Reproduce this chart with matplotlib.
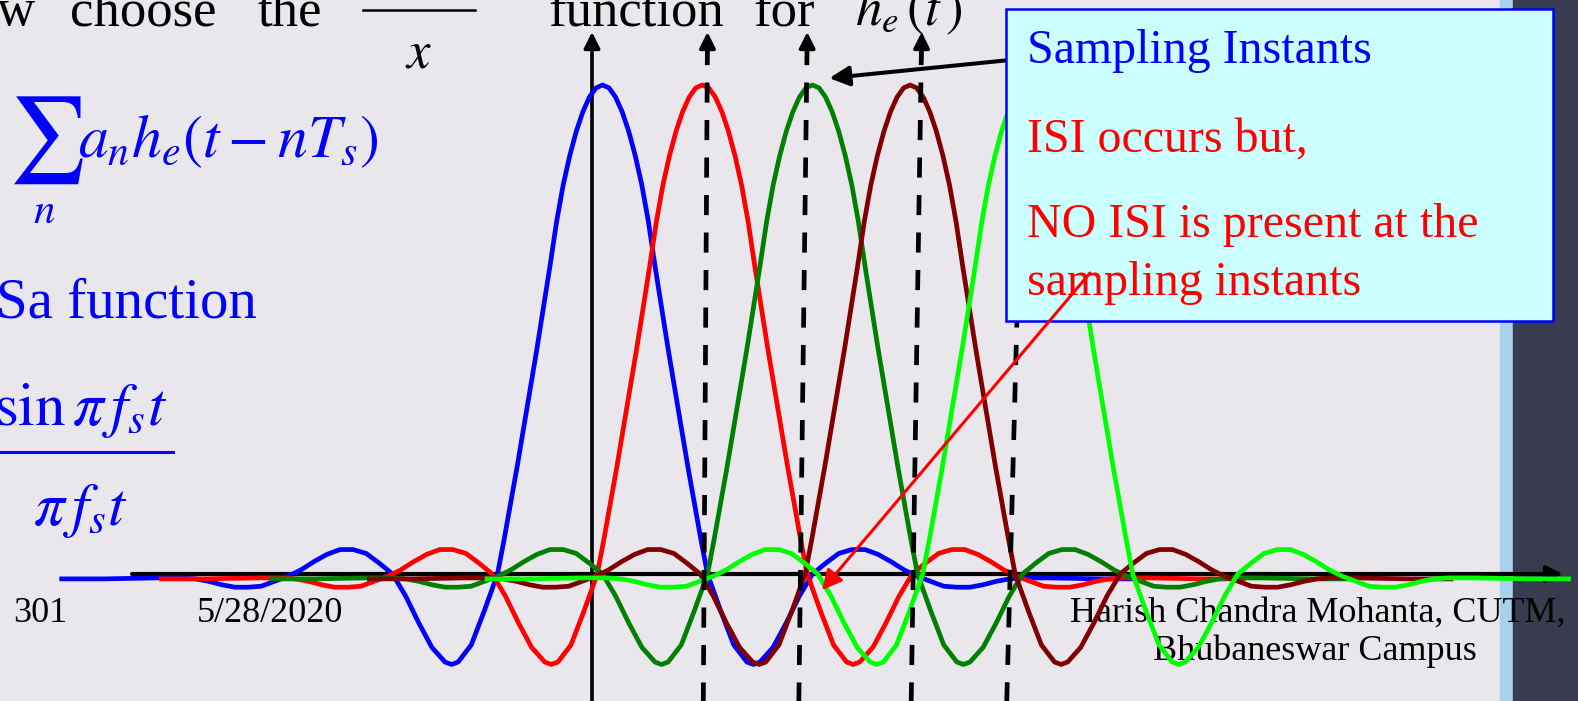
import numpy as np
import matplotlib
matplotlib.use('Agg')
import matplotlib.pyplot as plt
from matplotlib.patches import Rectangle
from matplotlib.lines import Line2D

# ---- data ----
# one side of the pulse (blue curve), offset from centre in Ts -> amplitude
half_offsets = [0.0000, 0.0625, 0.1250, 0.1875, 0.2500, 0.3125, 0.3750, 0.4375,
                0.5000, 0.5625, 0.6250, 0.6875, 0.7500, 0.8125, 0.8750, 0.9375,
                1.000, 1.125, 1.250, 1.375, 1.4375, 1.500, 1.625, 1.750, 1.875,
                2.000, 2.125, 2.250, 2.375, 2.500, 2.625, 2.750, 2.875,
                3.000, 3.125, 3.250, 3.375, 3.500, 3.625, 3.750, 3.875,
                4.000, 4.250, 4.500, 4.750, 5.000, 5.150]
half_pulse = [1.000, 0.994, 0.975, 0.945, 0.905, 0.855, 0.795, 0.720,
              0.630, 0.545, 0.460, 0.380, 0.300, 0.220, 0.145, 0.070,
              0.000, -0.075, -0.145, -0.180, -0.185, -0.180, -0.150, -0.100, -0.045,
              0.000, 0.022, 0.042, 0.050, 0.050, 0.040, 0.025, 0.008,
              -0.005, -0.015, -0.025, -0.027, -0.027, -0.022, -0.015, -0.010,
              -0.008, -0.008, -0.009, -0.010, -0.010, -0.010]

pulse_centres = [0.10, 1.05, 2.10, 3.03, 4.15]
pulse_colours = ['#0000FF', '#FF0000', '#008000', '#800000', '#00FF00']

# sampling instants (dashed lines lean a little): bottom / top position in Ts
sample_bottom = [1.06, 1.97, 3.04, 3.95]
sample_top = [1.10, 2.05, 3.14, 4.12]

# ---- layout in pixels ----
W, H = 1578, 701
X0, Y0 = 592, 574       # origin of the t / amplitude axes
T_PX, A_PX = 105, 489   # pixels per Ts, pixels per unit amplitude
BG = '#E9E7EB'

plt.rcParams['font.family'] = ['Liberation Serif', 'DejaVu Serif']
plt.rcParams['mathtext.fontset'] = 'stix'
plt.rcParams['lines.scale_dashes'] = False

fig = plt.figure(figsize=(W / 100, H / 100), dpi=100, facecolor=BG)
ax = fig.add_axes([0, 0, 1, 1])
ax.set_facecolor(BG)
ax.axis('off')
ax.set_xlim(-X0 / T_PX, (W - X0) / T_PX)
ax.set_ylim(-(H - Y0) / A_PX, Y0 / A_PX)
y_top, y_bot = ax.get_ylim()[1], ax.get_ylim()[0]


def fx(x):
    return x / W


def fy(y):
    return 1 - y / H


def tx(x, y, s, **kw):
    kw.setdefault('va', 'baseline')
    kw.setdefault('zorder', 10)
    ax.text(fx(x), fy(y), s, transform=ax.transAxes, **kw)


# side strips of the slide template
ax.add_patch(Rectangle((fx(1500), 0), 13 / W, 1, transform=ax.transAxes,
                       color='#A6D3EB', zorder=0))
ax.add_patch(Rectangle((fx(1513), 0), 1 - fx(1513), 1, transform=ax.transAxes,
                       color='#383C4E', zorder=0))

# axes with arrows
arrow_tip = (Y0 - 32) / A_PX
ax.annotate('', xy=((1563 - X0) / T_PX, 0), xytext=((132 - X0) / T_PX, 0),
            arrowprops=dict(arrowstyle='-|>', lw=3.0, color='black',
                            mutation_scale=24, shrinkA=0, shrinkB=0),
            zorder=2)
ax.annotate('', xy=(0, arrow_tip), xytext=(0, y_bot),
            arrowprops=dict(arrowstyle='-|>', lw=2.6, color='black',
                            mutation_scale=24, shrinkA=0, shrinkB=0),
            zorder=2)

# the shifted pulses
off = np.array(half_offsets)
val = np.array(half_pulse)
full_off = np.concatenate([-off[::-1], off[1:]])
full_val = np.concatenate([val[::-1], val[1:]])
for c, col in zip(pulse_centres, pulse_colours):
    ax.plot(full_off + c, full_val, color=col, lw=3.4, zorder=3,
            solid_joinstyle='round')

# dashed sampling instants with arrow heads
head_base = (Y0 - 45) / A_PX
for xb, xt in zip(sample_bottom, sample_top):
    x_hb = xt + (xb - xt) * (arrow_tip - head_base) / (arrow_tip - y_bot)
    ax.plot([x_hb, xb], [head_base, y_bot], color='black', lw=3.4,
            dashes=(14.5, 12.5), zorder=4)
    ax.annotate('', xy=(xt, arrow_tip), xytext=(x_hb, head_base - 0.03),
                arrowprops=dict(arrowstyle='-|>', lw=2.6, color='black',
                                mutation_scale=24, shrinkA=0, shrinkB=0),
                zorder=4)

# call-out box
ax.add_patch(Rectangle((fx(1006), fy(321)), 547 / W, 312 / H,
                       transform=ax.transAxes, fc='#CCFFFF', ec='#0000FF',
                       lw=1.8, zorder=5))
ax.annotate('', xy=(pulse_centres[2] + 0.16, 1.014),
            xytext=((1020 - X0) / T_PX, (Y0 - 59) / A_PX),
            arrowprops=dict(arrowstyle='-|>', lw=2.9, color='black',
                            mutation_scale=30, shrinkA=0, shrinkB=0),
            zorder=4.5)
ax.annotate('', xy=(sample_bottom[1] + 0.22, -0.033),
            xytext=((1090 - X0) / T_PX, (Y0 - 273) / A_PX),
            arrowprops=dict(arrowstyle='-|>', lw=2.2, color='#FF0000',
                            mutation_scale=30, shrinkA=0, shrinkB=0),
            zorder=7)

box_fs = 34.5
tx(1027, 63, 'Sampling Instants', color='#0000FF', size=box_fs, zorder=6)
tx(1027, 152, 'ISI occurs but,', color='#FF0000', size=box_fs, zorder=6)
tx(1027, 237, 'NO ISI is present at the', color='#FF0000', size=box_fs, zorder=6)
tx(1027, 295, 'sampling instants', color='#FF0000', size=box_fs, zorder=6)

# title line (cut off at the top of the view, as on the slide)
top_fs = 38
tx(-3, 25, 'w', size=top_fs)
tx(70, 25, 'choose', size=top_fs)
tx(258, 25, 'the', size=top_fs)
tx(548, 25, 'function', size=top_fs)
tx(753, 25, 'for', size=top_fs)
tx(855, 25, r'$h_e\,(t\,)$', size=top_fs)
tx(405, 68, r'$x$', size=top_fs)
ax.add_line(Line2D([fx(363), fx(475)], [fy(10), fy(10)], transform=ax.transAxes,
                   color='black', lw=1.8, zorder=10))

# blue formulas on the left
blue = '#0000FF'
tx(8, 140, r'$\sum$', size=62, color=blue, va='center')
tx(33, 223, r'$n$', size=31, color=blue)
tx(78, 157, r'$a_n h_e\left(t-nT_s\right)$', size=43, color=blue)
tx(-4, 317, 'Sa function', size=41, color=blue)
tx(-6, 425, r'$\sin\pi\, f_s t$', size=44, color=blue)
ax.add_line(Line2D([fx(0), fx(173)], [fy(452), fy(452)], transform=ax.transAxes,
                   color=blue, lw=2.2, zorder=10))
tx(33, 525, r'$\pi\, f_s t$', size=44, color=blue)

# footer
tx(13, 622, '301', size=26, zorder=1)
tx(197, 622, '5/28/2020', size=26, zorder=1)
tx(1318, 622, 'Harish Chandra Mohanta, CUTM,', size=26, ha='center', zorder=1)
tx(1315, 660, 'Bhubaneswar Campus', size=26, ha='center', zorder=1)

fig.savefig('out.png', dpi=100, facecolor=BG)
